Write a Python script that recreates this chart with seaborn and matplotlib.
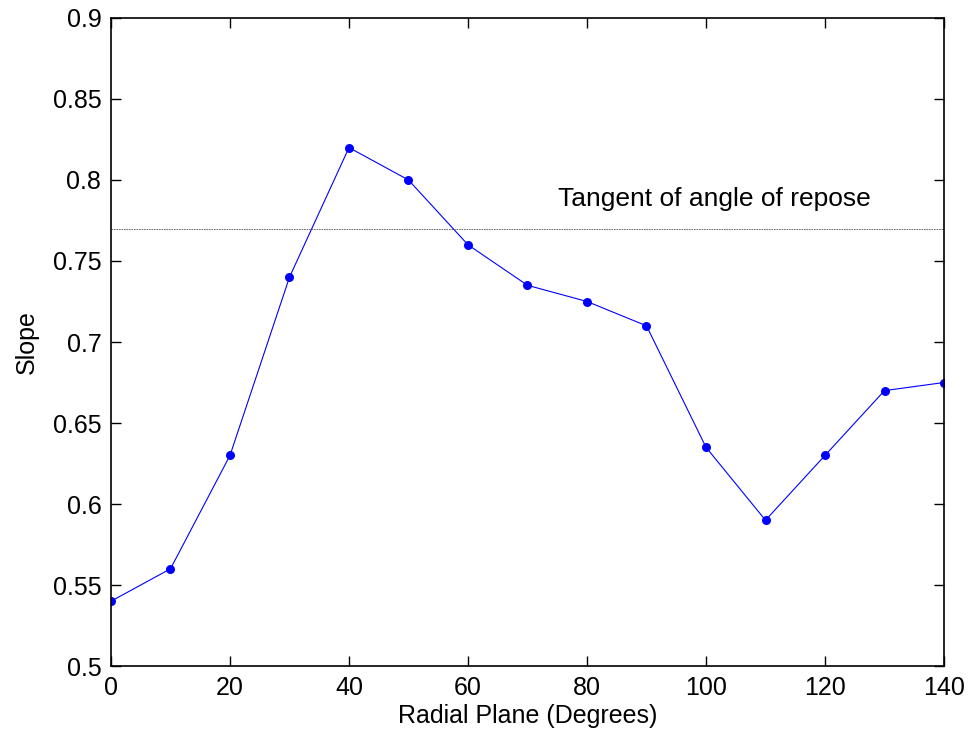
import matplotlib
matplotlib.use("Agg")
import matplotlib.pyplot as plt
import seaborn as sns
import pandas as pd

# Slope measured on each radial plane
radial_plane = [0, 10, 20, 30, 40, 50, 60, 70, 80, 90, 100, 110, 120, 130, 140]
slope = [0.54, 0.56, 0.63, 0.74, 0.82, 0.80, 0.76, 0.735, 0.725, 0.71,
         0.635, 0.59, 0.63, 0.67, 0.675]
repose_tangent = 0.77

x_ticks = [0, 20, 40, 60, 80, 100, 120, 140]
y_ticks = [0.5, 0.55, 0.6, 0.65, 0.7, 0.75, 0.8, 0.85, 0.9]
y_tick_labels = ["0.5", "0.55", "0.6", "0.65", "0.7", "0.75", "0.8", "0.85", "0.9"]

sns.set_style("ticks")
plt.rcParams["font.family"] = ["Liberation Sans", "DejaVu Sans"]
plt.rcParams["text.color"] = "black"
plt.rcParams["axes.labelcolor"] = "black"

df = pd.DataFrame({"Radial Plane": radial_plane, "Slope": slope})

fig = plt.figure(figsize=(9.71, 7.46), dpi=100)
ax = fig.add_axes([0.1143, 0.1072, 0.8579, 0.8687])

sns.lineplot(data=df, x="Radial Plane", y="Slope", ax=ax, color="#0000ff",
             linewidth=0.8, marker="o", markersize=6.5, markeredgewidth=0,
             markerfacecolor="#0000ff")

ax.axhline(repose_tangent, color="#555555", linewidth=0.6, linestyle=(0, (2, 1)))
ax.text(75.2, repose_tangent + 0.011, "Tangent of angle of repose",
        fontsize=19, color="black", ha="left", va="bottom")

ax.set_xlim(0, 140)
ax.set_ylim(0.5, 0.9)
ax.set_xticks(x_ticks)
ax.set_yticks(y_ticks)
ax.set_yticklabels(y_tick_labels)

for side in ["top", "right", "bottom", "left"]:
    ax.spines[side].set_visible(True)
    ax.spines[side].set_linewidth(1.2)
    ax.spines[side].set_color("black")

ax.tick_params(direction="in", length=7, width=1, top=True, right=True,
               labelsize=18, colors="black", pad=7)

ax.set_xlabel("Radial Plane (Degrees)", fontsize=18, labelpad=3)
ax.set_ylabel("Slope", fontsize=18, labelpad=10)

fig.savefig("out.png", dpi=100)
